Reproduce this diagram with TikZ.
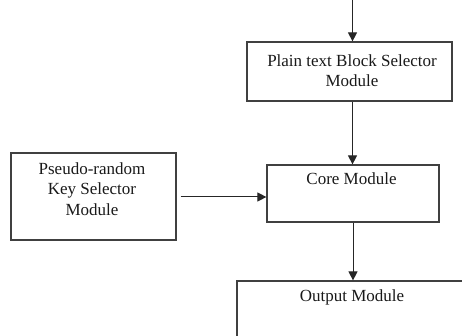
\documentclass[tikz,border=0pt]{standalone}
\usepackage{fontspec}
\setmainfont{Liberation Serif}
\usetikzlibrary{arrows.meta}
\begin{document}
\begin{tikzpicture}[x=1pt,y=-1pt,
  box/.style={draw=black!75, line width=1.2pt, inner sep=0pt},
  txt/.style={font=\fontsize{17}{20}\selectfont, align=center, anchor=north, inner sep=0pt, text=black!90},
  arr/.style={-{Triangle[length=9pt,width=9pt]}, line width=1pt, draw=black!85}]
\useasboundingbox (0,0) rectangle (462,336);
\clip (0,0) rectangle (462,336);
% boxes
\node[box, minimum width=205pt, minimum height=59pt] (plain) at (349.5,71.5) {};
\node[box, minimum width=172pt, minimum height=57pt] (core) at (353,193.5) {};
\node[box, minimum width=165pt, minimum height=87pt] (key) at (93.5,196.5) {};
\node[box, minimum width=260pt, minimum height=100pt] (out) at (367,331) {};
% texts
\node[txt] (plaintxt) at (352,55) {Plain text Block Selector\\Module};
\node[txt] (coretxt) at (351.5,172.6) {Core Module};
\node[txt, font=\fontsize{17}{20.5}\selectfont] (keytxt) at (92,162.3) {Pseudo-random\\Key Selector\\Module};
\node[txt] (outtxt) at (352,289.3) {Output Module};
% connectors
\coordinate (topin) at (352.5,0);
\draw[arr] (topin) -- (topin |- plain.north);
\draw[arr] (plain.south -| 352.5,0) -- (core.north -| 352.5,0);
\draw[arr] (key.east |- 0,197) ++(4,0) -- (core.west |- 0,197);
\draw[arr] (core.south -| 353,0) -- (out.north -| 353,0);
\end{tikzpicture}
\end{document}
